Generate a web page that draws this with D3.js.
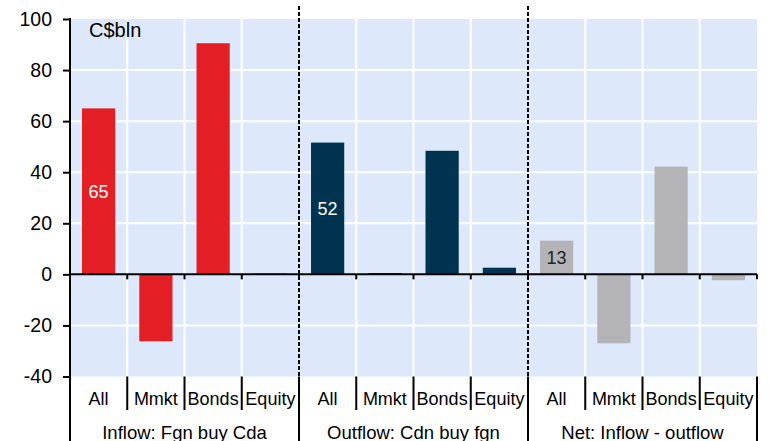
<!DOCTYPE html>
<html>
<head>
<meta charset="utf-8">
<script src="https://cdn.jsdelivr.net/npm/d3@7"></script>
<style>
  body { margin: 0; background: #fff; }
  svg { display: block; font-family: "Liberation Sans", Arial, sans-serif; }
</style>
</head>
<body>
<svg id="chart" width="769" height="441"></svg>
<script>
var groups = ["Inflow: Fgn buy Cda", "Outflow: Cdn buy fgn", "Net: Inflow - outflow"];
var assets = ["All", "Mmkt", "Bonds", "Equity"];
var inflow = [65, -26.2, 90.5, 0.3];
var outflow = [51.6, 0.5, 48.4, 2.6];
var net = [13.2, -27, 42.2, -2.3];
var allLabels = ["65", "52", "13"];
var yTicks = [-40, -20, 0, 20, 40, 60, 80, 100];

var colors = ["#e31e24", "#00334f", "#b4b4b7"];
var labelColors = ["#fff", "#fff", "#222"];
var series = [inflow, outflow, net];

var rows = [];
groups.forEach(function(g, gi) {
  assets.forEach(function(a, ai) {
    rows.push({ key: gi + "|" + a, group: gi, asset: a, value: series[gi][ai],
                label: ai === 0 ? allLabels[gi] : null });
  });
});

var svg = d3.select('#chart');
// note: "top" is reserved on window, so use plot* names
var plotLeft = 70, plotRight = 757, plotTop = 19, plotBottom = 376.5;

var x = d3.scaleBand()
  .domain(rows.map(function(d) { return d.key; }))
  .range([plotLeft, plotRight])
  .paddingInner(0.42)
  .paddingOuter(0.21);
var step = x.step();

var y = d3.scaleLinear().domain([-40, 100]).range([plotBottom, plotTop]);

// plot background
svg.append('rect')
  .attr('x', plotLeft).attr('y', plotTop)
  .attr('width', plotRight - plotLeft).attr('height', plotBottom - plotTop)
  .attr('fill', '#dde9fb');

// horizontal grid
svg.selectAll('.hgrid')
  .data(yTicks.filter(function(t) { return t !== 0 && t !== -40 && t !== 100; }))
  .enter().append('line')
  .attr('x1', plotLeft).attr('x2', plotRight)
  .attr('y1', function(d) { return y(d); })
  .attr('y2', function(d) { return y(d); })
  .attr('stroke', '#fff').attr('stroke-width', 2);

// vertical grid at category boundaries
var bounds = d3.range(1, rows.length);
svg.selectAll('.vgrid')
  .data(bounds.filter(function(i) { return i % 4 !== 0; }))
  .enter().append('line')
  .attr('x1', function(i) { return plotLeft + i * step; })
  .attr('x2', function(i) { return plotLeft + i * step; })
  .attr('y1', plotTop).attr('y2', plotBottom)
  .attr('stroke', '#fff').attr('stroke-width', 2);

// bars
svg.selectAll('.bar')
  .data(rows)
  .enter().append('rect')
  .attr('x', function(d) { return x(d.key); })
  .attr('width', x.bandwidth())
  .attr('y', function(d) { return y(Math.max(0, d.value)); })
  .attr('height', function(d) { return Math.abs(y(d.value) - y(0)); })
  .attr('fill', function(d) { return colors[d.group]; });

// value labels
svg.selectAll('.vlabel')
  .data(rows.filter(function(d) { return d.label; }))
  .enter().append('text')
  .attr('x', function(d) { return x(d.key) + x.bandwidth() / 2; })
  .attr('y', function(d) { return (y(d.value) + y(0)) / 2; })
  .attr('dy', '0.35em')
  .attr('text-anchor', 'middle')
  .style('font-size', '18px')
  .style('fill', function(d) { return labelColors[d.group]; })
  .text(function(d) { return d.label; });

// zero line
svg.append('line')
  .attr('x1', plotLeft).attr('x2', plotRight)
  .attr('y1', y(0)).attr('y2', y(0))
  .attr('stroke', '#000').attr('stroke-width', 2);

// ticks under zero line
svg.selectAll('.ztick')
  .data(d3.range(1, rows.length + 1))
  .enter().append('line')
  .attr('x1', function(i) { return plotLeft + i * step; })
  .attr('x2', function(i) { return plotLeft + i * step; })
  .attr('y1', y(0)).attr('y2', y(0) + 5)
  .attr('stroke', '#000').attr('stroke-width', 2);

// y axis (plain hyphen for negatives, like the original)
var yAxis = svg.append('g')
  .attr('transform', 'translate(' + plotLeft + ',0)')
  .call(d3.axisLeft(y).tickValues(yTicks).tickSize(7).tickPadding(11)
    .tickFormat(function(d) { return String(d); }));
yAxis.select('.domain').remove();
yAxis.selectAll('line').attr('stroke', '#000').attr('stroke-width', 2);
yAxis.selectAll('text')
  .style('font-size', '19.5px')
  .style('font-family', '"Liberation Sans", Arial, sans-serif')
  .attr('fill', '#000');

svg.append('line')
  .attr('x1', plotLeft).attr('x2', plotLeft)
  .attr('y1', plotTop - 1).attr('y2', 441)
  .attr('stroke', '#000').attr('stroke-width', 2);

// unit label
svg.append('text')
  .attr('x', 89).attr('y', 37)
  .style('font-size', '20px')
  .text('C$bln');

// dashed group separators
svg.selectAll('.dash')
  .data([1, 2])
  .enter().append('line')
  .attr('x1', function(g) { return plotLeft + g * 4 * step; })
  .attr('x2', function(g) { return plotLeft + g * 4 * step; })
  .attr('y1', 6).attr('y2', plotBottom)
  .attr('stroke', '#000').attr('stroke-width', 2)
  .attr('stroke-dasharray', '4,2');

// category separators below plot
svg.selectAll('.csep')
  .data(d3.range(1, rows.length + 1))
  .enter().append('line')
  .attr('x1', function(i) { return plotLeft + i * step; })
  .attr('x2', function(i) { return plotLeft + i * step; })
  .attr('y1', plotBottom)
  .attr('y2', function(i) { return i % 4 === 0 ? 441 : 410; })
  .attr('stroke', '#000').attr('stroke-width', 2);

// category labels
svg.selectAll('.clabel')
  .data(rows)
  .enter().append('text')
  .attr('x', function(d) { return x(d.key) + x.bandwidth() / 2; })
  .attr('y', 405)
  .attr('text-anchor', 'middle')
  .style('font-size', '18px')
  .text(function(d) { return d.asset; });

// group labels
svg.selectAll('.glabel')
  .data(groups)
  .enter().append('text')
  .attr('x', function(g, gi) { return plotLeft + (gi * 4 + 2) * step; })
  .attr('y', 439)
  .attr('text-anchor', 'middle')
  .style('font-size', '18.5px')
  .text(function(g) { return g; });
</script>
</body>
</html>
